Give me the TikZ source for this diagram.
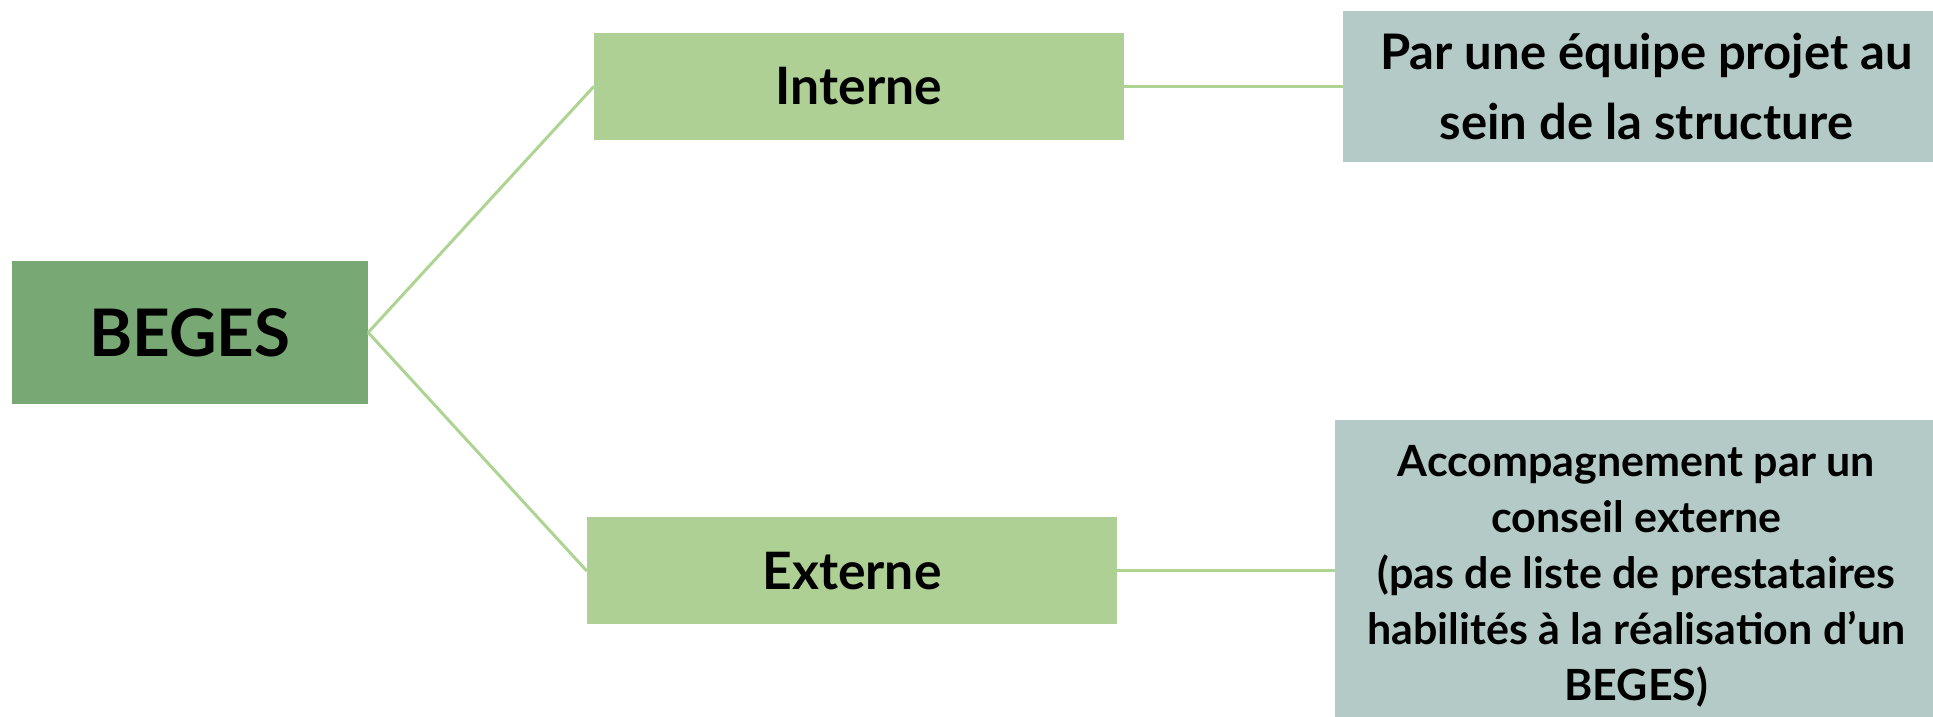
\documentclass[tikz,border=0pt]{standalone}
\usepackage{fontspec}
\setmainfont{Lato}
\usepackage{tikz}
\usetikzlibrary{positioning}
\definecolor{rootgreen}{HTML}{78A874}
\definecolor{branchgreen}{HTML}{AFD095}
\definecolor{leafgrey}{HTML}{B4CAC7}
\definecolor{linkgreen}{HTML}{AED494}
\tikzset{
	root/.style={
		rectangle,
		fill=rootgreen,
		inner sep=0pt,
		minimum width=356pt,
		minimum height=143pt,
		font=\fontsize{65.6}{70}\selectfont\bfseries
	},
	branch/.style={
		rectangle,
		fill=branchgreen,
		inner sep=0pt,
		minimum width=530pt,
		minimum height=107pt,
		font=\fontsize{51.6}{60}\selectfont\bfseries
	},
	leaf/.style={
		rectangle,
		fill=leafgrey,
		inner sep=0pt,
		align=center
	},
	link/.style={
		draw=linkgreen,
		line width=3pt
	}
}
\begin{document}
\begin{tikzpicture}[x=1pt,y=1pt]
		\useasboundingbox (0,0) rectangle (1933,717);
		\node [root] (beges) at (190,384.5) {BEGES};
		\node [branch] (interne) at (859,630.5) {Interne};
		\node [branch] (externe) at (852,146) {Externe};
		\node [leaf,minimum width=606pt,minimum height=151pt,
			font=\fontsize{49}{70}\selectfont\bfseries]
			(equipe) [right=219pt of interne]
			{Par une équipe projet au\\sein de la structure};
		\node [leaf,minimum width=602pt,minimum height=312pt,
			font=\fontsize{43}{56}\selectfont\bfseries]
			(conseil) [right=218pt of externe,yshift=-5pt]
			{Accompagnement par un\\conseil externe\\(pas de liste de prestataires\\habilités à la réalisation d’un\\BEGES)};
		\draw [link] (beges.east) -- (interne.west);
		\draw [link] (beges.east) -- (externe.west);
		\draw [link] (interne.east) -- (equipe.west);
		\draw [link] (externe.east) -- (externe.east -| conseil.west);
\end{tikzpicture}
\end{document}
